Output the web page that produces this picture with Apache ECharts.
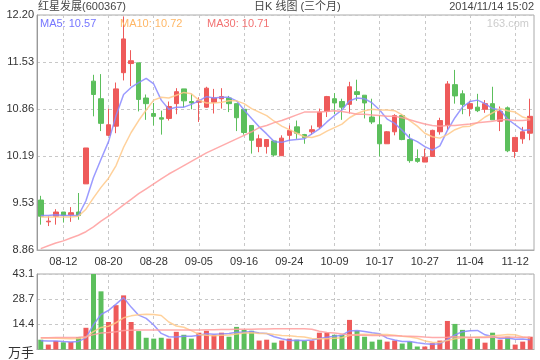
<!DOCTYPE html>
<html><head><meta charset="utf-8">
<script src="https://cdn.jsdelivr.net/npm/echarts@6/dist/echarts.min.js"></script>
<style>html,body{margin:0;padding:0;background:#fff}#c{width:540px;height:360px}</style>
</head><body><div id="c"></div>
<script>
const dates = ['08-07','08-08','08-11','08-12','08-13','08-14','08-15','08-18','08-19','08-20','08-21','08-22','08-25','08-26','08-27','08-28','08-29','09-01','09-02','09-03','09-04','09-05','09-09','09-10','09-11','09-12','09-15','09-16','09-17','09-18','09-19','09-22','09-23','09-24','09-25','09-26','09-29','09-30','10-08','10-09','10-10','10-13','10-14','10-15','10-16','10-17','10-20','10-21','10-22','10-23','10-24','10-27','10-28','10-29','10-30','10-31','11-03','11-04','11-05','11-06','11-07','11-10','11-11','11-12','11-13','11-14'];
const openP  = [9.57,9.26,9.34,9.40,9.36,9.40,9.80,11.26,11.01,10.49,10.62,11.38,11.51,11.52,11.02,10.80,10.74,10.73,10.94,11.15,10.97,10.96,10.89,10.96,11.01,11.02,10.94,10.86,10.63,10.33,10.33,10.41,10.20,10.49,10.61,10.50,10.54,10.61,10.83,11.01,10.97,10.93,11.11,11.06,10.75,10.64,10.37,10.54,10.77,10.43,10.16,10.11,10.19,10.54,10.63,11.21,11.08,10.87,10.89,10.86,10.94,10.69,10.88,10.26,10.44,10.52];
const closeP = [9.34,9.27,9.40,9.35,9.39,9.35,10.31,11.07,10.66,10.64,11.15,11.86,11.55,11.00,10.94,10.76,10.72,10.90,11.11,10.98,10.95,10.98,11.16,11.02,11.04,10.94,10.74,10.53,10.42,10.44,10.43,10.21,10.45,10.56,10.52,10.46,10.57,10.82,11.04,10.95,10.89,11.18,11.07,10.95,10.68,10.37,10.54,10.77,10.43,10.13,10.12,10.18,10.56,10.70,11.22,11.05,10.93,10.94,10.84,10.94,10.71,10.83,10.27,10.46,10.54,10.76];
const lowP   = [9.22,9.20,9.22,9.25,9.26,9.29,9.80,10.76,10.55,10.48,10.52,11.27,11.19,10.83,10.71,10.63,10.50,10.70,10.79,10.89,10.86,10.68,10.88,10.80,10.87,10.82,10.55,10.50,10.23,10.25,10.23,10.19,10.20,10.41,10.44,10.37,10.50,10.58,10.75,10.79,10.71,10.80,10.98,10.73,10.65,10.19,10.37,10.49,10.42,10.10,10.10,10.11,10.19,10.50,10.57,10.94,10.79,10.76,10.82,10.81,10.71,10.55,10.25,10.17,10.37,10.42];
const highP  = [9.63,9.34,9.44,9.40,9.47,9.67,10.31,11.35,11.36,10.87,11.24,12.18,11.70,11.52,11.07,10.95,10.84,10.97,11.16,11.15,11.08,11.03,11.18,11.15,11.16,11.05,10.94,10.86,10.63,10.50,10.43,10.42,10.49,10.63,10.70,10.51,10.63,10.87,11.05,11.09,11.01,11.25,11.28,11.06,11.01,10.78,10.55,10.79,10.79,10.51,10.29,10.30,10.57,10.74,11.26,11.42,11.13,10.98,11.08,10.99,11.18,10.90,10.90,10.46,10.61,11.01];
const ma5  = [9.35,9.35,9.36,9.35,9.35,9.35,9.56,9.89,10.15,10.40,10.77,11.07,11.17,11.24,11.30,11.22,10.99,10.86,10.89,10.89,10.93,10.98,11.04,11.02,11.03,11.03,10.98,10.85,10.73,10.61,10.51,10.40,10.39,10.42,10.43,10.44,10.51,10.58,10.68,10.77,10.85,10.98,11.02,11.01,10.95,10.85,10.72,10.66,10.56,10.45,10.40,10.33,10.28,10.34,10.56,10.74,10.89,10.97,10.99,10.94,10.87,10.85,10.72,10.64,10.56,10.57];
const ma10 = [9.33,9.33,9.33,9.33,9.33,9.34,9.44,9.60,9.75,9.88,10.06,10.32,10.53,10.70,10.85,10.99,11.03,11.02,11.06,11.10,11.08,10.99,10.95,10.95,10.96,10.98,10.98,10.94,10.87,10.82,10.77,10.69,10.62,10.57,10.52,10.47,10.46,10.49,10.55,10.60,10.65,10.74,10.80,10.84,10.86,10.85,10.85,10.84,10.78,10.70,10.62,10.52,10.47,10.45,10.50,10.57,10.61,10.62,10.67,10.75,10.81,10.87,10.84,10.82,10.75,10.72];
const ma30 = [8.88,8.92,8.96,8.99,9.03,9.07,9.12,9.19,9.27,9.34,9.42,9.50,9.58,9.66,9.73,9.80,9.87,9.94,10.00,10.06,10.12,10.18,10.24,10.29,10.34,10.39,10.44,10.49,10.54,10.60,10.63,10.67,10.70,10.74,10.78,10.82,10.82,10.82,10.83,10.84,10.83,10.81,10.79,10.79,10.78,10.77,10.76,10.76,10.74,10.71,10.68,10.65,10.63,10.62,10.63,10.63,10.64,10.65,10.67,10.68,10.69,10.71,10.71,10.70,10.70,10.71];
const volume = [5.6,2.8,4.9,4.1,4.3,7.1,12.4,43.1,33.2,15.7,25.3,30.9,15.7,10.5,6.7,6.2,6.7,6.2,10.1,8.4,6.2,9.6,10.7,8.4,9.6,7.3,12.9,11.2,10.7,5.1,5.6,3.9,5.1,6.2,5.6,4.9,5.1,9.6,9.6,8.4,8.4,16.9,10.7,7.3,4.5,5.6,4.5,5.1,3.4,4.5,1.7,1.7,3.6,5.1,16.3,14.6,11.2,6.2,6.2,3.9,9.6,5.6,7.3,2.8,4.5,7.3];
const volMa5  = [5.0,4.9,4.8,4.5,4.3,4.6,6.6,14.2,20.0,22.3,25.9,29.6,24.2,19.6,17.8,14.0,9.2,7.3,7.2,7.5,7.5,8.1,9.0,8.7,8.9,9.1,9.8,9.9,10.3,9.4,9.1,7.3,6.1,5.2,5.3,5.1,5.4,6.3,7.0,7.5,8.2,10.6,10.8,10.3,9.6,9.0,6.5,5.4,4.6,4.6,3.8,3.3,3.0,3.3,5.7,8.3,10.2,10.7,10.9,8.4,7.4,6.3,6.5,5.8,6.0,5.5];
const volMa10 = [6.6,6.5,6.4,6.3,6.2,6.3,7.0,10.2,12.6,13.3,15.3,18.1,19.2,19.8,20.1,20.0,19.4,15.7,13.4,12.7,10.8,8.6,8.1,7.9,8.2,8.3,8.9,9.4,9.5,9.2,9.1,8.5,8.0,7.8,7.4,7.1,6.3,6.2,6.1,6.4,6.7,8.0,8.5,8.7,8.5,8.6,8.6,8.1,7.5,7.1,6.4,4.9,4.2,4.0,5.2,6.1,6.7,6.8,7.1,7.1,7.8,8.2,8.6,8.4,7.2,6.5];
const volMa30 = [6.7,6.7,6.8,6.8,6.9,7.0,7.3,8.5,9.4,9.7,10.2,10.8,11.0,11.1,11.1,11.1,11.1,11.1,11.2,11.2,11.2,11.2,11.3,11.3,11.4,11.4,11.5,11.6,11.6,11.7,11.7,11.8,11.8,11.8,11.9,11.8,11.6,10.4,9.7,9.4,8.9,8.4,8.2,8.1,8.0,8.0,7.9,7.9,7.7,7.6,7.4,7.1,6.9,6.8,7.0,7.3,7.2,7.0,6.9,6.8,7.0,7.0,7.1,7.0,7.0,7.0];
const priceTicks = ['8.86','9.53','10.19','10.86','11.53','12.20'];
const volTicks = ['万手','14.4','28.7','43.1'];
const stockName = '红星发展(600367)';
const chartTitle = '日K 线图 (三个月)';
const timeStamp = '2014/11/14 15:02';
const watermark = '163.com';

const UP = '#ee5a5a', DOWN = '#5cbf5c';
const C5 = '#8a8aff', C10 = '#ffc98a', C30 = '#ff9c9c';
const FONT = "'Liberation Sans', 'Noto Sans CJK SC', sans-serif";
const kData = dates.map((d, i) => [openP[i], closeP[i], lowP[i], highP[i]]);
const volData = volume.map((v, i) => ({ value: v, itemStyle: { color: closeP[i] >= openP[i] ? UP : DOWN } }));
const showIdx = (i) => i % 6 === 3;
const gridLine = { color: '#c8c8c8', type: [3, 3], width: 1 };
const last = (a) => a[a.length - 1].toFixed(2);

const chart = echarts.init(document.getElementById('c'), null, { renderer: 'canvas' });
function maLine(data, color, xi, yi) {
  return { type: 'line', data: data, xAxisIndex: xi, yAxisIndex: yi, symbol: 'none', smooth: false,
    lineStyle: { width: 1.5, color: color, opacity: 0.85 }, z: 5, silent: true };
}
chart.setOption({
  animation: false,
  backgroundColor: '#fff',
  textStyle: { fontFamily: FONT },
  title: [
    { text: stockName, left: 38, top: 1, padding: 0, textStyle: { fontSize: 11, fontWeight: 'normal', color: '#444', fontFamily: FONT } },
    { text: chartTitle, left: 254, top: 1, padding: 0, textStyle: { fontSize: 11, fontWeight: 'normal', color: '#444', fontFamily: FONT } },
    { text: timeStamp, right: 6, top: 1, padding: 0, textStyle: { fontSize: 11, fontWeight: 'normal', color: '#444', fontFamily: FONT } }
  ],
  graphic: [
    { type: 'text', z: 100, style: { text: 'MA5: ' + last(ma5), x: 40, y: 24, verticalAlign: 'middle', fill: '#7676ff', font: "11px 'Liberation Sans', sans-serif" } },
    { type: 'text', z: 100, style: { text: 'MA10: ' + last(ma10), x: 120, y: 24, verticalAlign: 'middle', fill: '#ffb766', font: "11px 'Liberation Sans', sans-serif" } },
    { type: 'text', z: 100, style: { text: 'MA30: ' + last(ma30), x: 207, y: 24, verticalAlign: 'middle', fill: '#f27272', font: "11px 'Liberation Sans', sans-serif" } },
    { type: 'text', z: 100, style: { text: watermark, x: 529, y: 24, align: 'right', verticalAlign: 'middle', fill: '#cccccc', font: "11px 'Liberation Sans', sans-serif" } }
  ],
  grid: [
    { left: 37, right: 6, top: 15, height: 235, show: true, borderColor: '#aaa', borderWidth: 1, backgroundColor: 'transparent' },
    { left: 37, right: 6, top: 274, height: 77, show: true, borderColor: '#aaa', borderWidth: 1, backgroundColor: 'transparent' }
  ],
  xAxis: [
    { type: 'category', gridIndex: 0, data: dates, boundaryGap: true,
      axisLine: { lineStyle: { color: '#aaa' } }, axisTick: { show: false },
      axisLabel: { interval: (i) => showIdx(i), color: '#333', fontSize: 11, margin: 6, fontFamily: FONT },
      splitLine: { show: true, interval: (i) => showIdx(i), alignWithLabel: true, lineStyle: gridLine } },
    { type: 'category', gridIndex: 1, data: dates, boundaryGap: true,
      axisLine: { lineStyle: { color: '#aaa' } }, axisTick: { show: false }, axisLabel: { show: false },
      splitLine: { show: true, interval: (i) => showIdx(i), alignWithLabel: true, lineStyle: gridLine } }
  ],
  yAxis: [
    { type: 'value', gridIndex: 0, min: 8.86, max: 12.20, interval: 0.668, scale: true,
      axisLine: { show: true, lineStyle: { color: '#999' } }, axisTick: { show: false },
      axisLabel: { formatter: (v, i) => priceTicks[i], color: '#333', fontSize: 11, margin: 3, fontFamily: FONT },
      splitLine: { show: true, lineStyle: gridLine } },
    { type: 'value', gridIndex: 1, min: 0, max: 43.1, interval: 43.1 / 3,
      axisLine: { show: true, lineStyle: { color: '#999' } }, axisTick: { show: false },
      axisLabel: { formatter: (v, i) => i === 0 ? '{u|' + volTicks[0] + '}' : volTicks[i], color: '#333', fontSize: 11, margin: 3, fontFamily: FONT,
        rich: { u: { fontSize: 13, color: '#333', padding: [8, 0, 0, 0], fontFamily: FONT } } },
      splitLine: { show: true, lineStyle: gridLine } }
  ],
  series: [
    { type: 'candlestick', xAxisIndex: 0, yAxisIndex: 0, data: kData, barWidth: 5,
      itemStyle: { color: UP, color0: DOWN, borderColor: UP, borderColor0: DOWN, borderWidth: 1 } },
    maLine(ma5, C5, 0, 0), maLine(ma10, C10, 0, 0), maLine(ma30, C30, 0, 0),
    { type: 'bar', xAxisIndex: 1, yAxisIndex: 1, data: volData, barWidth: 5 },
    maLine(volMa5, C5, 1, 1), maLine(volMa10, C10, 1, 1), maLine(volMa30, C30, 1, 1)
  ]
});
</script></body></html>
